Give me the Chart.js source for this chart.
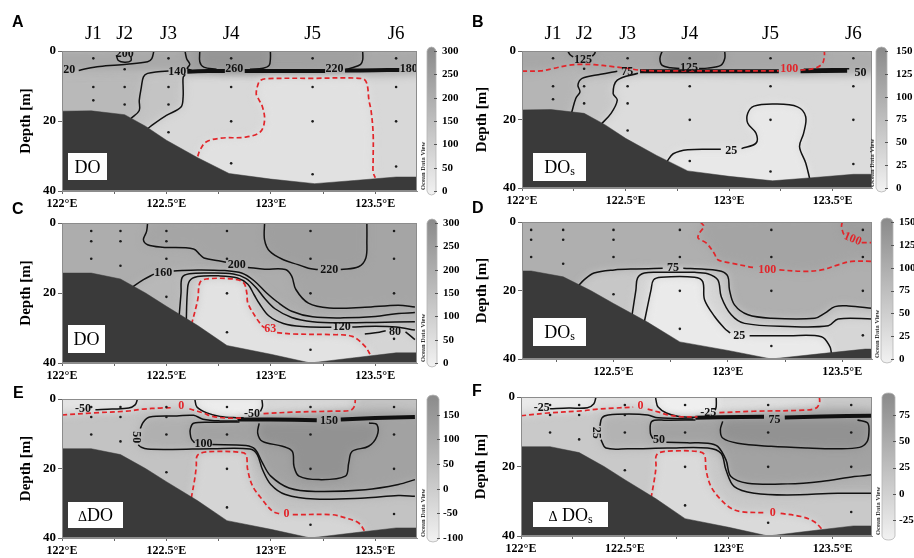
<!DOCTYPE html>
<html><head><meta charset="utf-8">
<script src="https://cdn.jsdelivr.net/npm/chart.js@4.4.1/dist/chart.umd.min.js"></script>
<style>
html,body{margin:0;padding:0;background:#fff;}
body{width:914px;height:558px;position:relative;overflow:hidden;}
canvas{position:absolute;}
</style></head><body>
<script>
function closed(arr, extra){ return arr.filter(p => p).concat(extra); }

// ---------- axes / ticks ----------
const lonTicks = [122, 122.25, 122.5, 122.75, 123, 123.25, 123.5];
const depthTicks = [0, 20, 40];
const cbTicks300 = [0, 50, 100, 150, 200, 250, 300];
const cbTicks150 = [0, 25, 50, 75, 100, 125, 150];
const cbTicksE = [-100, -50, 0, 50, 100, 150];
const cbTicksF = [-25, 0, 25, 50, 75];
const stationNames = ['J1', 'J2', 'J3', 'J4', 'J5', 'J6'];
const stationLonAB = [122.15, 122.30, 122.51, 122.81, 123.20, 123.60];

// ---------- sampling points ----------
const samplesAB = [[122.15,2.1],[122.15,10.3],[122.15,14.1],[122.30,5.2],[122.30,10.3],[122.30,15.3],
  [122.51,2.1],[122.51,10.3],[122.51,15.3],[122.51,23.2],[122.81,2.1],[122.81,10.3],[122.81,20.1],[122.81,32.1],
  [123.20,2.1],[123.20,10.3],[123.20,20.1],[123.20,35.2],[123.60,2.1],[123.60,10.3],[123.60,20.1],[123.60,33.0]];
const samplesCF = [[122.14,2.3],[122.14,5.2],[122.14,10.2],[122.28,2.3],[122.28,5.2],[122.28,12.2],
  [122.50,2.3],[122.50,5.2],[122.50,10.2],[122.50,21.1],[122.79,2.3],[122.79,10.2],[122.79,20.1],[122.79,31.2],
  [123.19,2.3],[123.19,10.2],[123.19,20.1],[123.19,36.2],[123.59,2.3],[123.59,10.2],[123.59,20.1],[123.59,33.1]];

// ---------- seabed ----------
const seabedAB = [[122,17.2],[122.14,17.1],[122.30,18.2],[122.40,21.5],[122.50,25.5],[122.65,30.5],[122.80,35],[123.0,36.6],[123.21,37.9],[123.40,37],[123.60,36],[123.70,36]];
const seabedCF = [[122,14.3],[122.14,14.3],[122.28,16.0],[122.40,20],[122.50,23.8],[122.65,29.3],[122.79,35],[123.0,37.5],[123.19,40],[123.4,38.5],[123.6,37.1],[123.7,37.1]];

// ---------- panel A : DO ----------
const A_c200 = [[122.26,1.2],[122.27,2.7],[122.30,3.2],[122.33,2.8],[122.33,1.5]];
const A_c20 = [[122.44,0],[122.43,2.2],[122.41,3.1],[122.31,3.8],[122.18,4.4],[122.12,5.0],[122.08,5.6]];
const A_c140w = [[122.33,19.3],[122.37,17.0],[122.37,14.1],[122.38,10.3],[122.39,7.4],[122.41,6.4],[122.46,5.9],[122.51,5.7]];
const A_c140e = [[122.41,22.2],[122.44,20.8],[122.50,18.4],[122.57,16.0],[122.58,13.1],[122.58,10.3],[122.58,7.6],[122.59,6.7]];
const A_c220 = [[122.589,0],[122.597,2.2],[122.612,3.8],[122.60,5.0],[122.62,5.5],null,[123.36,5.3],[123.39,4.8],[123.43,3.8],[123.44,2.5],[123.44,0]];
const A_c260 = [[122.66,0],[122.66,3.1],[122.679,4.6],[122.74,5.2],null,[122.90,5.2],[122.963,4.9],[122.992,4.1],[122.998,2.2],[122.998,0]];
const A_band = [[122.60,5.9],[122.70,5.7],[122.78,5.7],null,[122.875,5.7],[123.0,5.7],[123.26,5.7],null,[123.355,5.6],[123.5,5.5],[123.615,5.4]];
const A_red = [[122.65,30.1],[122.66,28.4],[122.69,26],[122.76,24.9],[122.88,24.6],[122.95,23.1],[122.97,19.8],[122.96,16],[122.94,13.6],[122.93,12.2],[122.94,9.3],[122.95,8.4],[122.98,7.9],[123.2,7.8],[123.44,7.9],[123.46,9.3],[123.47,14.1],[123.48,17],[123.49,23.6],[123.49,31.2],[123.49,34.6],[123.50,36.2]];
const A_labels = [[122.30,0.7,'200'],[122.035,5.4,'20'],[122.552,6.1,'140'],[122.825,5.1,'260'],[123.305,5.1,'220'],[123.66,5.0,'180']];
const A_shWest5 = [[121.9,6.4],[122.57,6.6],[122.59,6.9],[122.58,10.3],[122.58,13.1],[122.57,16],[122.50,18.4],[122.44,20.8],[122.41,22.2],[122.4,30],[121.9,30]];
const A_shWest6 = [[121.9,6.4],[122.41,6.4],[122.39,7.4],[122.38,10.3],[122.37,14.1],[122.37,17],[122.33,19.3],[122.3,25],[121.9,25]];
const A_shUpper = [[121.9,-1],[123.8,-1],[123.8,6.1],[122.6,6.3],[121.9,6.5]];
const A_sh220 = [[122.589,-1],[122.589,0],[122.597,2.2],[122.612,3.8],[122.60,5.0],[122.62,5.8],[123.36,5.7],[123.39,4.8],[123.43,3.8],[123.44,2.5],[123.44,-1]];
const A_sh260 = [[122.66,-1],[122.66,3.1],[122.679,4.6],[122.74,5.4],[122.96,5.3],[122.992,4.1],[122.998,2.2],[122.998,-1]];
const A_shRed = closed(A_red, [[123.5,41],[122.65,41]]);
const A_shade = [[A_shWest5,132],[A_shWest6,165],[A_shUpper,212],[A_sh220,236],[A_sh260,268],[A_shRed,48]];
const A_lines = [[A_c200,'k'],[A_c20,'k'],[A_c140w,'k'],[A_c140e,'k'],[A_c220,'k'],[A_c260,'k'],[A_band,'band'],[A_red,'r']];

// ---------- panel B : DOs ----------
const B_red = [[122,5.9],[122.09,5.8],[122.15,5.1],[122.22,4.2],[122.28,3.9],[122.35,4.0],[122.43,4.5],[122.51,5.1],[122.57,5.6],[122.64,5.8],[122.72,5.8],[123.0,5.8],[123.24,5.8],null,[123.345,5.6],[123.41,5.1],[123.45,3.7],[123.46,1.5],[123.46,0]];
const B_c125a = [[122.221,0],[122.231,1.0],[122.247,1.7],null,[122.339,1.5],[122.35,0.8],[122.355,0]];
const B_c125b = [[122.677,0],[122.666,2.2],[122.677,4.2],[122.718,4.9],[122.76,5.1],null,[122.855,5.1],[122.895,5.0],[122.96,4.2],[122.979,2.2],[122.979,0]];
const B_band = [[122.57,5.9],[122.8,5.9],[123.24,5.9],null,[123.345,5.9],[123.57,5.8]];
const B_band2 = [[123.36,5.3],[123.5,5.2],[123.58,5.2]];
const B_c75a = [[122.46,5.9],[122.38,6.8],[122.29,8.0],[122.27,10],[122.28,11.9],[122.26,13.8],[122.24,17.9]];
const B_c75b = [[122.56,6.5],[122.46,8.5],[122.44,12.4],[122.46,14.3],[122.43,18.2],[122.38,21.5]];
const B_c25 = [[122.70,32.3],[122.73,30],[122.80,28.8],[122.96,28.7],null,[123.06,28.5],[123.13,26.9],[123.13,24],[123.09,21.1],[123.09,18.2],[123.12,16.1],[123.22,15.5],[123.33,16.3],[123.37,19.2],[123.36,24],[123.34,27.9],[123.37,32.7],[123.39,37.5]];
const B_labels = [[122.295,2.6,'125'],[122.806,5.0,'125'],[122.508,6.2,'75'],[123.01,29.3,'25'],[123.635,6.4,'50'],[123.29,5.3,'100','r']];
const B_shMid = [[121.9,-1],[122.56,-1],[122.56,6.5],[122.46,8.5],[122.44,12.4],[122.46,14.3],[122.43,18.2],[122.38,21.5],[122.35,30],[121.9,30]];
const B_shWest = [[121.9,-1],[122.46,-1],[122.46,5.9],[122.38,6.8],[122.29,8.0],[122.27,10],[122.28,11.9],[122.26,13.8],[122.24,17.9],[122.2,25],[121.9,25]];
const B_shUpper = [[122.3,-1],[123.8,-1],[123.8,6.2],[122.6,6.3],[122.5,6.3],[122.3,6.6]];
const B_shAboveRed = [[121.9,-1],[121.9,5.9],[122,5.9],[122.09,5.8],[122.15,5.1],[122.22,4.2],[122.28,3.9],[122.35,4.0],[122.43,4.5],[122.51,5.1],[122.57,5.6],[122.64,5.8],[123.36,5.6],[123.41,5.1],[123.45,3.7],[123.46,1.5],[123.46,-1]];
const B_sh125a = [[122.221,-1],[122.221,0],[122.231,1.0],[122.247,1.7],[122.295,2.2],[122.339,1.5],[122.35,0.8],[122.355,0],[122.355,-1]];
const B_sh125b = [[122.677,-1],[122.677,0],[122.666,2.2],[122.677,4.2],[122.718,4.9],[122.895,5.0],[122.96,4.2],[122.979,2.2],[122.979,-1]];
const B_sh25 = closed(B_c25, [[123.39,41],[122.70,41]]);
const B_shade = [[B_shMid,62],[B_shWest,88],[B_shUpper,100],[B_shAboveRed,108],[B_sh125a,125],[B_sh125b,128],[B_sh25,14]];
const B_lines = [[B_c125a,'k'],[B_c125b,'k'],[B_c75a,'k'],[B_c75b,'k'],[B_band,'band'],[B_band2,'k'],[B_c25,'k'],[B_red,'r']];

// ---------- panel C : DO ----------
const C_c200 = [[122.41,0],[122.405,2.4],[122.39,4.8],[122.41,6.2],[122.48,6.9],[122.63,7.4],[122.66,9.0],[122.68,10],[122.75,10.8],[122.785,11.2],null,[122.89,12.7],[122.97,13.2],[123.07,13.3],[123.10,15.2],[123.12,19],[123.18,22.9],[123.28,24.3],[123.45,24.1],[123.61,23.5],[123.69,24.0]];
const C_c220 = [[122.97,0],[122.97,4.8],[122.995,8.1],[123.06,10.5],[123.13,11.9],[123.18,12.9],[123.225,13.3],null,[123.335,13.3],[123.42,12.5],[123.455,10],[123.46,5],[123.46,0]];
const C_c160 = [[122.33,18.6],[122.39,16.2],[122.44,14.6],null,[122.535,13.7],[122.65,13.4],[122.78,13.6],[122.86,14.3],[122.92,16.5],[122.98,20],[123.03,22.5],[123.10,25.2],[123.2,26.8],[123.35,27.1],[123.5,26.7],[123.6,25.9],[123.69,25.6]];
const C_c140 = [[122.56,27.2],[122.57,20],[122.575,15.6],[122.61,14.5],[122.72,14.3],[122.82,14.6],[122.88,15.8],[122.93,18.5],[122.97,21.5],[123.02,24.5],[123.10,27.0],[123.2,28.2],[123.35,28.5],[123.5,28.4],[123.69,28.2]];
const C_c120 = [[122.595,28.3],[122.60,20],[122.61,16.6],[122.65,15.3],[122.75,15.1],[122.84,15.7],[122.89,17.5],[122.92,20.5],[122.945,23],[122.99,26.5],[123.06,28.7],[123.15,29.6],[123.29,29.8],null,[123.39,29.7],[123.5,29.5],[123.6,29.7],[123.69,30.6]];
const C_c80 = [[123.45,31.7],[123.52,31.2],[123.55,30.8],null,[123.645,31.1],[123.69,33.3]];
const C_red = [[122.62,29.0],[122.65,21.9],[122.66,17.1],[122.69,16.0],[122.82,16.0],[122.87,17.1],[122.885,20],[122.89,22.9],[122.93,27.1],[122.96,29.5],[122.97,29.9],null,[123.03,31.3],[123.1,31.7],[123.29,31.9],[123.39,32.4],[123.45,35.2],[123.48,38.0]];
const C_labels = [[122.837,11.9,'200'],[123.28,13.3,'220'],[122.485,14.3,'160'],[123.34,29.7,'120'],[123.595,31.0,'80'],[122.997,30.4,'63','r']];
const C_shAbove200 = closed(C_c200, [[123.8,24.0],[123.8,-1],[122.41,-1]]);
const C_sh220 = [[122.97,-1],[122.97,0],[122.97,4.8],[122.995,8.1],[123.06,10.5],[123.13,11.9],[123.18,12.9],[123.28,13.4],[123.335,13.3],[123.42,12.5],[123.455,10],[123.46,5],[123.46,-1]];
const C_sh160 = closed(C_c160, [[123.8,25.6],[123.8,41],[122.33,41]]);
const C_sh140 = closed(C_c140, [[123.8,28.2],[123.8,41],[122.56,41]]);
const C_sh120 = closed(C_c120, [[123.8,30.6],[123.8,41],[122.595,41]]);
const C_sh80 = closed(C_c80, [[123.8,33.5],[123.8,41],[123.45,41]]);
const C_shRed = closed(C_red, [[123.48,41],[122.62,41]]);
const C_shade = [[C_shAbove200,222],[C_sh220,240],[C_sh160,168],[C_sh140,145],[C_sh120,112],[C_sh80,85],[C_shRed,45]];
const C_lines = [[C_c200,'k'],[C_c220,'k'],[C_c160,'k'],[C_c140,'k'],[C_c120,'k'],[C_c80,'k'],[C_red,'r']];

// ---------- panel D : DOs ----------
const D_red1 = [[122.88,0],[122.895,1.3],[122.876,3.2],[122.87,4.7],[122.905,6.1],[122.94,9.1],[122.956,11.0],[123.015,12.0],[123.088,13.0],[123.12,13.4],null,[123.225,14.0],[123.336,14.4],[123.409,14.0],[123.482,12.5],[123.541,11.5],[123.636,11.5]];
const D_red2 = [[123.5,0],[123.497,1.3],[123.504,3.2],[123.51,3.9],null,[123.585,6.0],[123.636,6.0]];
const D_c75 = [[122.345,18.8],[122.371,16.9],[122.415,14.9],[122.503,14.0],[122.60,13.7],[122.715,13.5],null,[122.805,13.5],[122.898,13.8],[122.971,14.4],[123.0,15.9],[123.007,19.8],[123.029,24.2],[123.088,27.1],[123.19,28.1],[123.38,28.1],[123.424,26.6],[123.468,24.7],[123.526,24.5],[123.636,25.2]];
const D_c50 = [[122.58,27.6],[122.598,19.8],[122.605,16.4],[122.635,14.9],[122.708,14.7],[122.854,14.7],[122.912,15.1],[122.956,16.9],[122.971,21.8],[123.015,27.1],[123.073,29.6],[123.263,30.5],[123.439,30.3],[123.482,28.3],[123.636,28.3]];
const D_c25 = [[122.635,29.1],[122.664,19.8],[122.675,16.9],[122.708,16.1],[122.854,16.1],[122.89,17.4],[122.898,22.7],[122.942,27.6],[122.985,31.0],[123.01,32.4],null,[123.095,33.2],[123.263,33.2],[123.409,33.5],[123.446,36.4],[123.453,38.5]];
const D_labels = [[122.76,13.5,'75'],[123.05,33.4,'25'],[123.172,13.9,'100','r'],[123.545,5.0,'100','r',22]];
const D_shRed1 = closed(D_red1, [[123.8,11.5],[123.8,-1],[122.88,-1]]);
const D_shRed2 = [[123.5,-1],[123.5,0],[123.497,1.3],[123.504,3.2],[123.55,5.0],[123.592,6.0],[123.8,6.0],[123.8,-1]];
const D_sh75 = closed(D_c75, [[123.8,25.2],[123.8,41],[122.345,41]]);
const D_sh50 = closed(D_c50, [[123.8,28.3],[123.8,41],[122.58,41]]);
const D_sh25 = closed(D_c25, [[123.453,41],[122.635,41]]);
const D_shade = [[D_shRed1,112],[D_shRed2,122],[D_sh75,62],[D_sh50,40],[D_sh25,12]];
const D_lines = [[D_c75,'k'],[D_c50,'k'],[D_c25,'k'],[D_red1,'r'],[D_red2,'r']];

// ---------- panel E : delta DO ----------
const E_red0a = [[122,4.6],[122.15,4.0],[122.31,3.5],[122.39,2.9],[122.47,2.6],[122.53,2.5],null,[122.61,2.8],[122.63,3.2],[122.675,4.0],[122.72,5.0],[122.80,5.5],[122.86,5.5],null,[122.965,4.2],[123.1,3.8],[123.29,3.5],[123.38,3.3],[123.40,2.1],[123.405,0]];
const E_m50a = [[122.16,3.1],[122.24,2.9],[122.32,2.6],[122.35,1.7],[122.36,0.3],[122.36,0]];
const E_m50b = [[122.636,0],[122.646,2.3],[122.694,4.0],[122.756,5.0],[122.842,5.4],[122.87,5.4],null,[122.95,3.6],[122.96,2.1],[122.957,0]];
const E_band = [[122.84,5.9],[123.0,5.9],[123.22,6.1],null,[123.335,5.9],[123.5,5.5],[123.69,5.2]];
const E_c50 = [[122.84,6.3],[122.756,6.3],[122.675,5.8],[122.63,4.7],[122.55,4.9],[122.42,5.2],[122.39,6.6],[122.375,8.5],null,[122.365,13.2],[122.38,13.9],[122.41,14.4],[122.53,14.5],[122.72,14.3],[122.90,14.4],[122.935,16.0],[122.96,20.3],[123.0,24.6],[123.07,27.5],[123.21,28.8],[123.45,28.5],[123.61,27.8],[123.69,28.0]];
const E_c100 = [[122.85,6.6],[122.72,6.7],[122.63,7.0],[122.615,8.5],[122.614,10],[122.62,11.5],[122.635,12.6],null,[122.72,13.1],[122.881,13.4],[122.925,14.5],[122.96,18.4],[123.0,22.2],[123.087,25.6],[123.214,26.6],[123.452,26.1],[123.611,24.6],[123.69,23.2]];
const E_c150 = [[122.944,7.0],[122.937,9.8],[122.96,12.2],[123.056,13.6],[123.103,15.1],[123.111,19.4],[123.135,22.2],[123.23,23.2],[123.357,22.2],[123.373,18.4],[123.389,15.1],[123.468,13.6],[123.508,10.7],[123.508,7.4],[123.47,6.9]];
const E_red0b = [[122.619,28.5],[122.635,23.2],[122.643,19.4],[122.646,16.5],[122.667,15.5],[122.738,15.1],[122.849,15.3],[122.881,16.0],[122.889,20.3],[122.913,25.1],[122.96,29.0],[123.008,32.3],[123.045,33.1],null,[123.105,33.3],[123.294,33.3],[123.357,34.2],[123.421,35.7],[123.452,38.3]];
const E_labels = [[122.10,2.9,'-50'],[122.571,2.1,'0','r'],[122.91,4.4,'-50'],[123.278,6.4,'150'],[122.357,11.0,'50','k',90],[122.678,13.0,'100'],[123.075,33.2,'0','r']];
const E_shTop = closed(E_red0a, [[123.405,-1],[121.9,-1],[121.9,4.6]]);
const E_shM50a = [[121.9,-1],[121.9,2.7],[122.1,2.9],[122.16,3.1],[122.24,2.9],[122.32,2.6],[122.35,1.7],[122.36,0.3],[122.36,-1]];
const E_shM50b = [[122.636,-1],[122.636,0],[122.646,2.3],[122.694,4.0],[122.756,5.0],[122.842,5.4],[122.905,5.0],[122.95,3.6],[122.96,2.1],[122.957,-1]];
const E_sh50 = closed(E_c50, [[123.8,28.0],[123.8,5.4],[122.85,5.8]]);
const E_sh100 = closed(E_c100, [[123.8,23.2],[123.8,5.6],[122.85,6.0]]);
const E_sh150 = closed(E_c150, [[122.97,6.6]]);
const E_shRed0b = closed(E_red0b, [[123.452,41],[122.619,41]]);
const E_shade = [[E_shTop,-28],[E_shM50a,-62],[E_shM50b,-85],[E_sh50,78],[E_sh100,118],[E_sh150,160],[E_shRed0b,-22]];
const E_lines = [[E_m50a,'k'],[E_m50b,'k'],[E_band,'band'],[E_c50,'k'],[E_c100,'k'],[E_c150,'k'],[E_red0a,'r'],[E_red0b,'r']];

// ---------- panel F : delta DOs ----------
const F_red0a = [[122,5.4],[122.13,4.6],[122.29,4.0],[122.37,3.5],[122.45,3.2],[122.54,2.9],null,[122.61,3.5],[122.66,4.3],[122.71,5.2],[122.78,5.7],[122.85,5.7],null,[122.955,4.5],[123.12,4.1],[123.36,3.8],[123.42,3.2],[123.437,1.7],[123.437,0]];
const F_m25a = [[122.14,3.4],[122.23,3.2],[122.32,3.1],[122.35,2.0],[122.36,0.3],[122.36,0]];
const F_m25b = [[122.648,0],[122.65,0.9],[122.66,2.9],[122.70,4.6],[122.76,5.6],[122.86,5.9],null,[122.935,3.8],[122.94,2.7],[122.94,0]];
const F_band = [[122.84,6.0],[122.95,5.8],[123.17,5.7],null,[123.27,5.9],[123.45,5.6],[123.69,5.4]];
const F_c25 = [[122.83,6.3],[122.66,6.0],[122.61,5.2],[122.52,4.9],[122.42,5.2],[122.39,6.0],[122.38,8.3],null,[122.385,12.3],[122.409,14.7],[122.514,14.9],[122.706,14.7],[122.899,14.7],[122.963,16.2],[122.987,21.0],[123.027,25.8],[123.124,27.7],[123.284,28.2],[123.525,27.7],[123.69,27.7]];
const F_c50 = [[122.84,6.6],[122.7,6.7],[122.63,7.0],[122.623,10.4],[122.635,12.0],null,[122.70,13.0],[122.80,13.2],[122.899,13.3],[122.947,14.2],[122.987,18.1],[123.011,22.9],[123.091,24.8],[123.284,25.0],[123.445,24.3],[123.605,22.9],[123.69,22.4]];
const F_c75 = [[122.971,7.0],[122.96,9.4],[122.971,11.8],[123.043,13.3],[123.204,14.2],[123.38,14.7],[123.525,14.9],[123.63,14.5],[123.665,13.0],[123.675,10.4],[123.669,7.5],[123.62,6.6]];
const F_red0b = [[122.626,29.1],[122.642,23.8],[122.65,20.0],[122.65,17.1],[122.666,16.0],[122.738,15.5],[122.851,15.7],[122.883,16.6],[122.891,21.0],[122.915,25.8],[122.963,29.6],[123.011,32.0],[123.059,33.0],[123.172,33.3],null,[123.25,33.5],[123.348,34.4],[123.412,35.9],[123.453,38.3]];
const F_labels = [[122.10,3.2,'-25'],[122.575,2.7,'0','r'],[122.902,4.6,'-25'],[123.22,6.5,'75'],[122.36,10.3,'25','k',90],[122.665,12.4,'50'],[123.212,33.4,'0','r']];
const F_shTop = closed(F_red0a, [[123.437,-1],[121.9,-1],[121.9,5.4]]);
const F_shM25a = [[121.9,-1],[121.9,3.1],[122.1,3.2],[122.14,3.4],[122.23,3.2],[122.32,3.1],[122.35,2.0],[122.36,0.3],[122.36,-1]];
const F_shM25b = [[122.648,-1],[122.648,0],[122.65,0.9],[122.66,2.9],[122.70,4.6],[122.76,5.6],[122.86,5.9],[122.91,5.0],[122.935,3.8],[122.94,2.7],[122.94,-1]];
const F_sh25 = closed(F_c25, [[123.8,27.7],[123.8,5.4],[122.84,5.9]]);
const F_sh50 = closed(F_c50, [[123.8,22.4],[123.8,5.6],[122.85,6.1]]);
const F_sh75 = closed(F_c75, [[123.0,6.6]]);
const F_shRed0b = closed(F_red0b, [[123.453,41],[122.626,41]]);
const F_shade = [[F_shTop,-14],[F_shM25a,-30],[F_shM25b,-36],[F_sh25,40],[F_sh50,62],[F_sh75,82],[F_shRed0b,-10]];
const F_lines = [[F_m25a,'k'],[F_m25b,'k'],[F_band,'band'],[F_c25,'k'],[F_c50,'k'],[F_c75,'k'],[F_red0a,'r'],[F_red0b,'r']];

// ---------- panel box texts ----------
const boxTextDO = [['DO',18]];
const boxTextDOs = [['DO',18],['s',12,1]];
const boxTextdDO = [['\u0394',14],['DO',18]];
const boxTextdDOs = [['\u0394',14],[' DO',18],['s',12,1]];

const seabedABpoly = closed(seabedAB, [[123.8,36],[123.8,41],[121.9,41],[121.9,17.2]]);
const seabedCFpoly = closed(seabedCF, [[123.8,37.1],[123.8,41],[121.9,41],[121.9,14.3]]);

const panels = [
  {id:'A', canvas:[0,0,474,214], area:[62,51,417,191], xr:[122,123.7], cb:[0,300], cbTicks:cbTicks300, cbOff:10, cbW:9, cbPad:25, titlePad:17, letter:[12,27], boxPos:[6,38,39,27], boxText:boxTextDO, base:75, shade:A_shade, lines:A_lines, labels:A_labels, seabed:seabedABpoly, samples:samplesAB, stations:stationLonAB},
  {id:'B', canvas:[454,0,460,214], area:[522,51,872,188], xr:[122,123.69], cb:[0,150], cbTicks:cbTicks150, cbOff:4, cbW:11, cbPad:24, titlePad:19, letter:[472,27], boxPos:[11,35,53,28], boxText:boxTextDOs, base:32, shade:B_shade, lines:B_lines, labels:B_labels, seabed:seabedABpoly, samples:samplesAB, stations:stationLonAB},
  {id:'C', canvas:[0,190,474,196], area:[62,223,417,363], xr:[122,123.7], cb:[0,300], cbTicks:cbTicks300, cbOff:10, cbW:10, cbPad:26, titlePad:17, letter:[12,214], boxPos:[6,38,37,28], boxText:boxTextDO, base:200, shade:C_shade, lines:C_lines, labels:C_labels, seabed:seabedCFpoly, samples:samplesCF},
  {id:'D', canvas:[454,190,460,196], area:[522,222,872,359], xr:[122.1,123.63], cb:[0,150], cbTicks:cbTicks150, cbOff:9, cbW:12, cbPad:27, titlePad:19, letter:[472,213], boxPos:[11,41,53,28], boxText:boxTextDOs, base:96, shade:D_shade, lines:D_lines, labels:D_labels, seabed:seabedCFpoly, samples:samplesCF},
  {id:'E', canvas:[0,360,474,198], area:[62,399,417,538], xr:[122,123.7], cb:[-100,182], cbTicks:cbTicksE, cbOff:10, cbW:12, cbPad:26, titlePad:17, letter:[13,398], boxPos:[6,36,55,26], boxText:boxTextdDO, base:28, shade:E_shade, lines:E_lines, labels:E_labels, seabed:seabedCFpoly, samples:samplesCF},
  {id:'F', canvas:[454,360,460,198], area:[521,397,872,536], xr:[122,123.69], cb:[-40,92], cbTicks:cbTicksF, cbOff:10, cbW:13, cbPad:27, titlePad:18, letter:[472,396], boxPos:[12,34,75,25], boxText:boxTextdDOs, base:12, shade:F_shade, lines:F_lines, labels:F_labels, seabed:seabedCFpoly, samples:samplesCF}
];

// ---------- rendering ----------
const RED = '#e2252a';
const BLUR = 'blur(4px)';
const SERIF = '"Liberation Serif", "Times New Roman", serif';
function cmap(t){ t = Math.max(0, Math.min(1, t)); const g = Math.round(242 - 104 * t); return `rgb(${g},${g},${g})`; }
function shadeColor(v, lo, hi){ return cmap((v - lo) / (hi - lo)); }
function toXY(arr){ const out = []; let px = null; for (const p of arr){ if (p){ out.push({x:p[0], y:p[1]}); px = p[0]; } else out.push({x:px, y:null}); } return out; }
function isMajor(v){ return Math.abs(v * 2 - Math.round(v * 2)) < 1e-6; }

function makePlugin(P, geom){
  return {
    id: 'odv' + P.id,
    beforeDatasetsDraw(chart){
      const {ctx, chartArea:a} = chart;
      ctx.save(); ctx.fillStyle = shadeColor(P.base, P.cb[0], P.cb[1]); ctx.fillRect(a.left, a.top, a.width, a.height); ctx.restore();
      const d0 = chart.data.datasets[0];
      ctx.filter = (d0 && d0.blur) ? BLUR : 'none';
    },
    beforeDatasetDraw(chart){ chart.ctx.filter = 'none'; },
    afterDatasetDraw(chart, args){
      const n = chart.data.datasets[args.index + 1];
      chart.ctx.filter = (n && n.blur) ? BLUR : 'none';
    },
    afterDatasetsDraw(chart){
      const {ctx, chartArea:a} = chart; ctx.filter = 'none';
      const xs = chart.scales.x, ys = chart.scales.y;
      ctx.save();
      ctx.beginPath(); ctx.rect(a.left, a.top, a.width, a.height); ctx.clip();
      ctx.font = 'bold 12px ' + SERIF; ctx.textAlign = 'center'; ctx.textBaseline = 'middle';
      for (const [lon, dep, txt, col, rot] of P.labels){
        ctx.save();
        ctx.translate(xs.getPixelForValue(lon), ys.getPixelForValue(dep));
        if (rot) ctx.rotate(rot * Math.PI / 180);
        ctx.fillStyle = col === 'r' ? RED : '#111';
        ctx.fillText(txt, 0, 0);
        ctx.restore();
      }
      ctx.restore();
    },
    afterDraw(chart){
      const {ctx, chartArea:a} = chart;
      ctx.save();
      ctx.strokeStyle = '#8c8c8c'; ctx.lineWidth = 1;
      ctx.strokeRect(a.left + 0.5, a.top + 0.5, a.width - 1, a.height - 1);
      // colour bar
      const y2 = chart.scales.y2;
      const top = y2.getPixelForValue(P.cb[1]), bot = y2.getPixelForValue(P.cb[0]);
      const x0 = a.right + P.cbOff, w = P.cbW, cap = 4;
      const g = ctx.createLinearGradient(0, bot + cap, 0, top - cap);
      g.addColorStop(0, cmap(0)); g.addColorStop(1, cmap(1));
      ctx.beginPath();
      ctx.moveTo(x0, top); ctx.quadraticCurveTo(x0 + 1, top - cap, x0 + w / 2, top - cap);
      ctx.quadraticCurveTo(x0 + w - 1, top - cap, x0 + w, top);
      ctx.lineTo(x0 + w, bot); ctx.quadraticCurveTo(x0 + w - 1, bot + cap, x0 + w / 2, bot + cap);
      ctx.quadraticCurveTo(x0 + 1, bot + cap, x0, bot); ctx.closePath();
      ctx.fillStyle = g; ctx.fill(); ctx.strokeStyle = '#b4b4b4'; ctx.lineWidth = 0.8; ctx.stroke();
      ctx.strokeStyle = '#555'; ctx.lineWidth = 1;
      for (const v of P.cbTicks){
        const py = Math.round(y2.getPixelForValue(v)) + 0.5;
        ctx.beginPath(); ctx.moveTo(x0 + w - 2, py); ctx.lineTo(x0 + w + 1, py); ctx.stroke();
      }
      ctx.save();
      ctx.translate(x0 - 3.5, bot - 1); ctx.rotate(-Math.PI / 2);
      ctx.font = 'bold 6.5px ' + SERIF; ctx.fillStyle = '#333'; ctx.textAlign = 'left'; ctx.textBaseline = 'middle';
      ctx.fillText('Ocean Data View', 0, 0);
      ctx.restore();
      // panel letter (page coordinates -> canvas coordinates)
      ctx.fillStyle = '#000'; ctx.font = 'bold 16px "Liberation Sans", Arial, sans-serif';
      ctx.textAlign = 'left'; ctx.textBaseline = 'alphabetic';
      ctx.fillText(P.id, P.letter[0] - geom[0], P.letter[1] - geom[1]);
      // station names
      if (P.stations){
        ctx.font = '19px ' + SERIF; ctx.textAlign = 'center'; ctx.textBaseline = 'middle';
        P.stations.forEach((lon, i) => ctx.fillText(stationNames[i], chart.scales.x.getPixelForValue(lon), a.top - 17));
      }
      // variable box
      const [dx, dy, bw, bh] = P.boxPos;
      const bx = a.left + dx, by = a.bottom - dy;
      ctx.fillStyle = '#fff'; ctx.fillRect(bx, by, bw, bh);
      let total = 0;
      const parts = P.boxText.map(([t, s, sub]) => { ctx.font = s + 'px ' + SERIF; const wd = ctx.measureText(t).width; total += wd; return {t, s, sub, wd}; });
      let x = bx + (bw - total) / 2; const baseY = by + bh / 2 + 6;
      ctx.fillStyle = '#000'; ctx.textAlign = 'left'; ctx.textBaseline = 'alphabetic';
      for (const p of parts){ ctx.font = p.s + 'px ' + SERIF; ctx.fillText(p.t, x, p.sub ? baseY + 2 : baseY); x += p.wd; }
      ctx.restore();
    }
  };
}

function makeDatasets(P){
  const ds = [];
  for (const [poly, v] of P.shade){
    ds.push({data: toXY(poly), fill: 'shape', backgroundColor: shadeColor(v, P.cb[0], P.cb[1]), borderColor: 'rgba(0,0,0,0)', borderWidth: 0, pointRadius: 0, pointHoverRadius: 0, tension: 0.3, blur: true});
  }
  for (const [line, kind] of P.lines){
    const d = {data: toXY(line), fill: false, pointRadius: 0, pointHoverRadius: 0, tension: 0.35};
    if (kind === 'r'){ Object.assign(d, {borderColor: RED, borderWidth: 1.7, borderDash: [5, 3]}); }
    else if (kind === 'band'){ Object.assign(d, {borderColor: '#111', borderWidth: 4, tension: 0.2}); }
    else { Object.assign(d, {borderColor: '#111', borderWidth: 1.5}); }
    ds.push(d);
  }
  ds.push({data: toXY(P.seabed), fill: 'shape', backgroundColor: '#3a3a3a', borderColor: '#3a3a3a', borderWidth: 0.5, pointRadius: 0, pointHoverRadius: 0, tension: 0});
  ds.push({data: toXY(P.samples), showLine: false, pointRadius: 1.3, pointHoverRadius: 1.3, pointBackgroundColor: '#1c1c1c', pointBorderColor: '#1c1c1c', pointBorderWidth: 0});
  ds.forEach((d, i) => { d.order = ds.length - i; });
  return ds;
}

function createChart(P, geom){
  const [cl, ct, cw, ch] = geom;
  const cv = document.createElement('canvas');
  cv.width = cw; cv.height = ch;
  cv.style.left = cl + 'px'; cv.style.top = ct + 'px';
  document.body.appendChild(cv);
  const [al, at, ar, ab] = P.area;
  const padTop = at - ct, yW = al - cl, y2W = cl + cw - ar, xH = ct + ch - ab;
  const tickFont = {family: SERIF, size: 12, weight: 'bold'};
  return new Chart(cv, {
    type: 'line',
    data: {datasets: makeDatasets(P)},
    options: {
      responsive: false, maintainAspectRatio: false, animation: false, devicePixelRatio: 1, events: [],
      layout: {padding: {top: padTop, left: 0, right: 0, bottom: 0}, autoPadding: false},
      elements: {line: {capBezierPoints: false}},
      plugins: {legend: {display: false}, tooltip: {enabled: false}, title: {display: false}},
      scales: {
        x: {type: 'linear', min: P.xr[0], max: P.xr[1],
            afterBuildTicks: s => { s.ticks = lonTicks.filter(v => v >= P.xr[0] - 1e-9 && v <= P.xr[1] + 1e-9).map(v => ({value: v})); },
            afterFit: s => { s.height = xH; },
            ticks: {callback: v => isMajor(v) ? v + '\u00b0E' : '', font: tickFont, color: '#000', padding: 3, maxRotation: 0, autoSkip: false},
            grid: {display: true, drawOnChartArea: false, drawTicks: true, tickLength: 3, color: '#666'},
            border: {display: true, color: '#8c8c8c'}},
        y: {type: 'linear', position: 'left', reverse: true, min: 0, max: 40,
            afterBuildTicks: s => { s.ticks = depthTicks.map(v => ({value: v})); },
            afterFit: s => { s.width = yW; },
            ticks: {font: {family: SERIF, size: 13, weight: 'bold'}, color: '#000', padding: 2},
            grid: {display: true, drawOnChartArea: false, drawTicks: true, tickLength: 4, color: '#666'},
            border: {display: true, color: '#8c8c8c'},
            title: {display: true, text: 'Depth [m]', color: '#000', font: {family: SERIF, size: 15, weight: 'bold'}, padding: {top: P.titlePad, bottom: 0}}},
        y2: {type: 'linear', position: 'right', min: P.cb[0], max: P.cb[1],
             afterBuildTicks: s => { s.ticks = P.cbTicks.map(v => ({value: v})); },
             afterFit: s => { s.width = y2W; },
             ticks: {font: {family: SERIF, size: 11, weight: 'bold'}, color: '#000', padding: P.cbPad},
             grid: {display: false, drawTicks: false},
             border: {display: false}}
      }
    },
    plugins: [makePlugin(P, geom)]
  });
}

function buildPanel(P){
  let geom = P.canvas.slice();
  let chart = createChart(P, geom);
  const [al, at, ar, ab] = P.area;
  for (let k = 0; k < 3; k++){
    const ca = chart.chartArea;
    const dL = al - (geom[0] + ca.left), dT = at - (geom[1] + ca.top);
    const dR = ar - (geom[0] + ca.right), dB = ab - (geom[1] + ca.bottom);
    if (Math.abs(dL) < 0.5 && Math.abs(dT) < 0.5 && Math.abs(dR) < 0.5 && Math.abs(dB) < 0.5) break;
    const oL = ca.left, oT = ca.top, oR = chart.width - ca.right, oB = chart.height - ca.bottom;
    geom = [al - oL, at - oT, oL + (ar - al) + oR, oT + (ab - at) + oB].map(Math.round);
    const old = chart.canvas; chart.destroy(); old.remove();
    chart = createChart(P, geom);
  }
}
panels.forEach(buildPanel);
</script></body></html>
